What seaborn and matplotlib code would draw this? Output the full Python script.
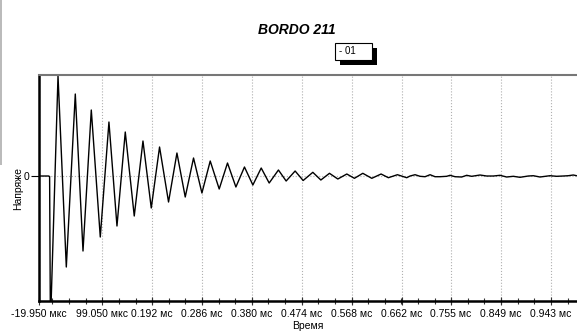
import numpy as np
import pandas as pd
import seaborn as sns
import matplotlib.pyplot as plt
from matplotlib.patches import Rectangle
from matplotlib.ticker import FixedLocator, FixedFormatter

# waveform: time in microseconds, voltage in arbitrary units
time_us = [-19.95, -2.0, 0.0, 1.5, 15.8, 31.4, 48.3, 62.8, 78.4, 95.3, 111.6, 126.7,
           142.3, 159.2, 175.6, 191.2, 206.8, 223.7, 239.5, 255.1, 270.7, 286.5,
           302.1, 319.0, 334.6, 350.4, 366.5, 382.3, 398.0, 413.0, 430.4, 444.9,
           461.8, 476.9, 495.1, 510.2, 526.4, 542.1, 559.0, 573.3, 589.1, 606.0,
           623.5, 637.2, 654.2, 671.7, 678.0, 687.4, 696.8, 706.2, 715.6, 725.0,
           734.4, 746.9, 753.2, 762.6, 775.1, 784.5, 793.9, 809.6, 822.1, 834.6,
           847.2, 859.7, 872.2, 884.8, 900.4, 909.8, 922.4, 941.2, 953.7, 966.2,
           975.6, 985.0, 991.3]
voltage = [0.0, 0.0, -0.005, -1.5, 1.0, -0.91, 0.82, -0.75, 0.66, -0.61, 0.54, -0.50,
           0.44, -0.40, 0.35, -0.32, 0.29, -0.26, 0.23, -0.21, 0.18, -0.17,
           0.15, -0.13, 0.13, -0.11, 0.09, -0.09, 0.08, -0.07, 0.06, -0.05,
           0.05, -0.045, 0.037, -0.04, 0.027, -0.03, 0.02, -0.023, 0.027, -0.023,
           0.02, -0.017, 0.013, -0.017, 0.0, 0.013, -0.003, -0.007, 0.013, -0.007,
           -0.007, -0.003, 0.007, -0.007, -0.01, 0.007, -0.003, 0.01, 0.0, 0.0,
           0.007, -0.01, -0.003, -0.013, 0.0, 0.003, -0.01, 0.003, -0.003, 0.0,
           0.003, 0.01, 0.003]

tick_us = [-19.95, 99.05, 192, 286, 380, 474, 568, 662, 755, 849, 943]
tick_labels = ['-19.950 мкс', '99.050 мкс', '0.192 мс', '0.286 мс', '0.380 мс',
               '0.474 мс', '0.568 мс', '0.662 мс', '0.755 мс', '0.849 мс', '0.943 мс']

df = pd.DataFrame({'t': time_us, 'v': voltage})

sns.set_style('white')
plt.rcParams['font.family'] = ['Liberation Sans', 'DejaVu Sans']
plt.rcParams['text.color'] = 'black'
plt.rcParams['axes.labelcolor'] = 'black'
plt.rcParams['xtick.color'] = 'black'
plt.rcParams['ytick.color'] = 'black'

fig = plt.figure(figsize=(5.77, 3.34), dpi=100)
ax = fig.add_axes([0.0676, 0.0988, 0.9324, 0.6766])

sns.lineplot(x='t', y='v', data=df, color='black', lw=1.0, ax=ax,
             estimator=None, sort=False)

ax.set_xlim(-19.95, 992)
ax.set_ylim(-1.25, 1.01)

ax.xaxis.set_major_locator(FixedLocator(tick_us))
ax.xaxis.set_major_formatter(FixedFormatter(tick_labels))
step = (tick_us[-1] - tick_us[1]) / 27
minors = np.arange(tick_us[1] - 3 * step, 992, step)
ax.xaxis.set_minor_locator(FixedLocator(minors))
ax.set_yticks([0])
ax.set_yticklabels(['0'])

ax.tick_params(axis='x', which='major', direction='inout', length=6, width=0.8,
               labelsize=7.5, pad=3, color='#333333', bottom=True)
ax.tick_params(axis='x', which='minor', direction='inout', length=5, width=0.8,
               color='#333333', bottom=True)
ax.tick_params(axis='y', which='major', direction='out', length=6, width=0.8,
               labelsize=7.5, pad=1, left=True)

ax.grid(True, axis='both', which='major', color='#b0b0b0', linestyle=':', lw=0.8)

for side in ['left', 'bottom']:
    ax.spines[side].set_color('black')
    ax.spines[side].set_linewidth(1.8)
ax.spines['top'].set_color('#777777')
ax.spines['top'].set_linewidth(1.5)
ax.spines['right'].set_visible(False)

ax.set_xlabel('Время', fontsize=7.5, labelpad=1)
ax.set_ylabel('Напряже', fontsize=7.5, labelpad=0.5)

fig.text(0.515, 0.91, 'BORDO 211', fontsize=10, fontweight='bold', fontstyle='italic',
         ha='center', va='center')

# small "- 01" box with shadow
fig.add_artist(Rectangle((340 / 577, 1 - 65 / 334), 37 / 577, 17 / 334,
                         transform=fig.transFigure, facecolor='black', edgecolor='none'))
fig.add_artist(Rectangle((335 / 577, 1 - 60 / 334), 37 / 577, 17 / 334,
                         transform=fig.transFigure, facecolor='white', edgecolor='black', lw=0.8))
fig.text(339 / 577, 1 - 51.5 / 334, '- 01', fontsize=7, ha='left', va='center')

# grey bar at the left edge
fig.add_artist(Rectangle((0, 1 - 165 / 334), 2 / 577, 165 / 334,
                         transform=fig.transFigure, facecolor='#bbbbbb', edgecolor='none'))

fig.savefig('out.png', dpi=100)
